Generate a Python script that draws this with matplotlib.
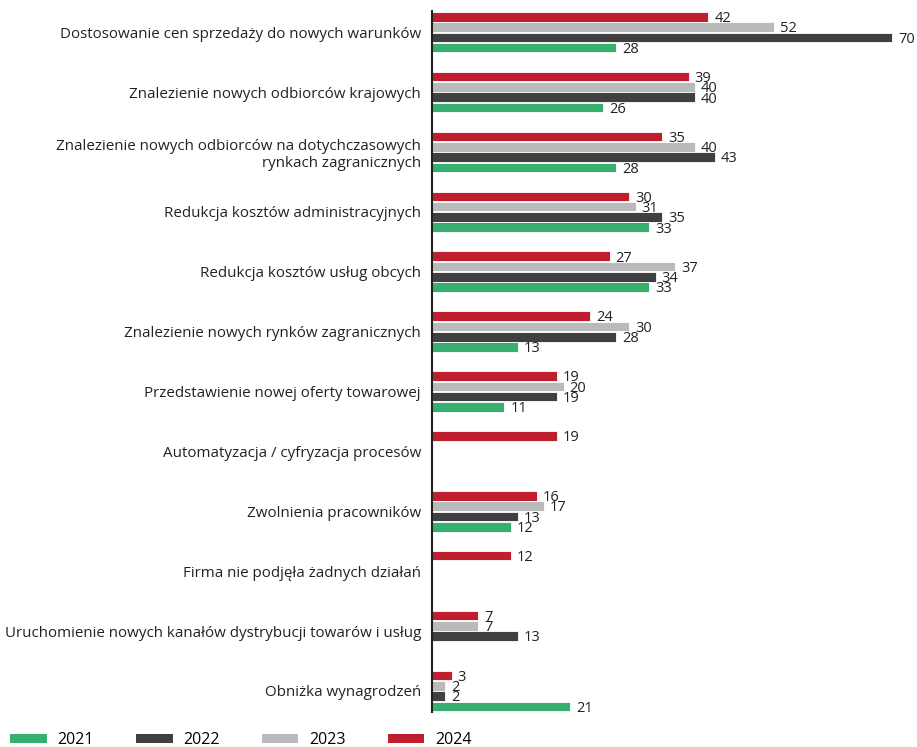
import matplotlib
matplotlib.use("Agg")
import matplotlib.pyplot as plt
import numpy as np
from matplotlib.patches import Patch

plt.rcParams['font.family'] = ['Open Sans', 'DejaVu Sans']

categories = [
    "Dostosowanie cen sprzedaży do nowych warunków",
    "Znalezienie nowych odbiorców krajowych",
    "Znalezienie nowych odbiorców na dotychczasowych\nrynkach zagranicznych",
    "Redukcja kosztów administracyjnych",
    "Redukcja kosztów usług obcych",
    "Znalezienie nowych rynków zagranicznych",
    "Przedstawienie nowej oferty towarowej",
    "Automatyzacja / cyfryzacja procesów",
    "Zwolnienia pracowników",
    "Firma nie podjęła żadnych działań",
    "Uruchomienie nowych kanałów dystrybucji towarów i usług",
    "Obniżka wynagrodzeń",
]
v2024 = [42, 39, 35, 30, 27, 24, 19, 19, 16, 12, 7, 3]
v2023 = [52, 40, 40, 31, 37, 30, 20, None, 17, None, 7, 2]
v2022 = [70, 40, 43, 35, 34, 28, 19, None, 13, None, 13, 2]
v2021 = [28, 26, 28, 33, 33, 13, 11, None, 12, None, None, 21]
years = ["2024", "2023", "2022", "2021"]
series = [v2024, v2023, v2022, v2021]
colors = ["#BE1E2D", "#B9BABC", "#404040", "#38AE6F"]

fig = plt.figure(figsize=(9.17, 7.47), dpi=100)
ax = fig.add_axes([0.4711, 0.047, 0.52, 0.938])

slot = 0.172
h = 0.16
y = np.arange(len(categories))
for i, (vals, c) in enumerate(zip(series, colors)):
    off = (i - 1.5) * slot
    for j, v in enumerate(vals):
        if v is None:
            continue
        ax.barh(y[j] + off, v, height=h, color=c, edgecolor='white', linewidth=0.6)
        ax.text(v + 0.9, y[j] + off + 0.03, str(v), va='center', ha='left',
                fontsize=10.5, color='#222222')

ax.set_ylim(11.35, -0.35)
ax.set_xlim(0, 72.5)
ax.set_yticks(y)
ax.set_yticklabels(categories, fontsize=10.9, color='#222222')
ax.tick_params(axis='y', length=0, pad=8)
ax.tick_params(axis='x', bottom=False, labelbottom=False)
for s in ['top', 'right', 'bottom']:
    ax.spines[s].set_visible(False)
ax.spines['left'].set_linewidth(1.5)
ax.spines['left'].set_color('#222222')

handles = [Patch(facecolor=c, label=yr) for yr, c in zip(years[::-1], colors[::-1])]
fig.legend(handles=handles, loc='center left', bbox_to_anchor=(0.002, 0.009), ncol=4,
           frameon=False, fontsize=11.5, handlelength=2.3, handleheight=0.5,
           columnspacing=2.65, handletextpad=0.65, borderpad=0.0)

fig.savefig("out.png", dpi=100)
